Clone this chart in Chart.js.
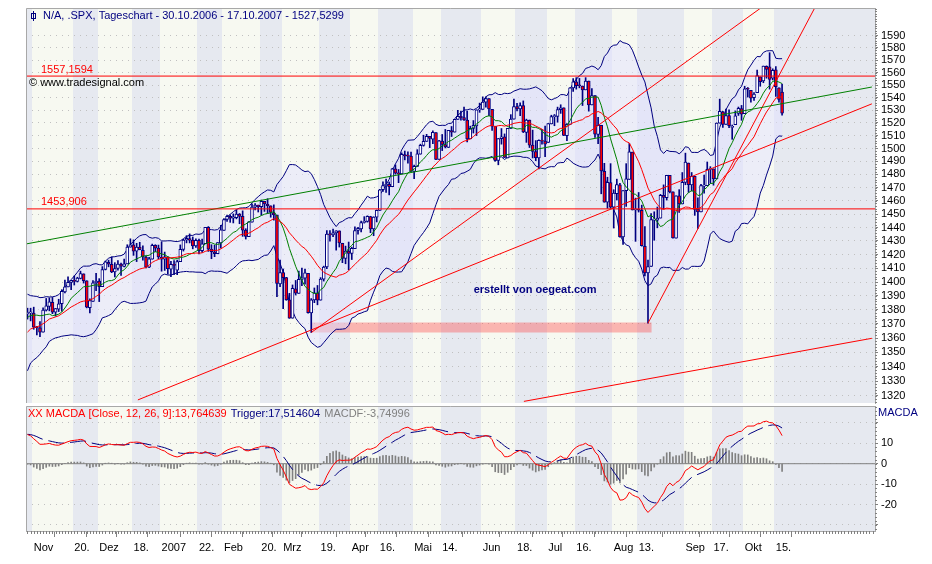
<!DOCTYPE html>
<html>
<head>
<meta charset="utf-8">
<script src="https://cdn.jsdelivr.net/npm/chart.js@4.4.0/dist/chart.umd.min.js"></script>
<style>
html, body { margin: 0; padding: 0; background: #fff; }
#wrap { position: relative; width: 932px; height: 564px; overflow: hidden; }
#priceChart { position: absolute; left: 0; top: 0; }
#macdChart { position: absolute; left: 0; top: 406px; }
</style>
</head>
<body>
<div id="wrap">
  <canvas id="priceChart" width="932" height="404"></canvas>
  <canvas id="macdChart" width="932" height="158"></canvas>
</div>
<script>
// SPX Tageschart 30.10.2006 - 17.10.2007, one value per trading day
const opens = [
  1377.34, 1377.93,
  // Nov
  1377.76, 1367.44, 1367.31, 1364.27, 1379.75, 1382.50, 1385.43, 1378.33, 1380.58, 1384.36, 1392.91,
  1396.53, 1399.76, 1401.17, 1400.43, 1402.69, 1405.94, 1400.95, 1381.61, 1386.11, 1399.47,
  // Dez
  1400.63, 1396.67, 1409.10, 1414.40, 1412.86, 1407.27, 1409.81, 1413.00, 1411.32, 1413.16,
  1425.48, 1427.08, 1422.42, 1425.51, 1423.20, 1418.10, 1410.75, 1416.63, 1426.77, 1424.71,
  // Jan
  1418.03, 1416.60, 1418.34, 1409.26, 1412.84, 1408.70, 1414.84, 1423.82, 1430.73, 1431.77,
  1430.59, 1426.35, 1430.47, 1422.95, 1427.96, 1440.12, 1423.90, 1422.03, 1420.61, 1428.65,
  // Feb
  1437.90, 1445.94, 1448.33, 1446.98, 1447.41, 1449.99, 1448.25, 1438.00, 1433.22, 1443.91,
  1455.15, 1456.77, 1455.53, 1459.60, 1457.29, 1456.22, 1451.04, 1449.25, 1398.64,
  // Mrz
  1406.80, 1403.16, 1387.11, 1374.06, 1395.02, 1391.88, 1401.89, 1402.80, 1406.23, 1377.86, 1387.11,
  1392.28, 1386.95, 1402.04, 1410.92, 1435.04, 1434.54, 1436.11, 1437.49, 1428.35, 1417.17, 1422.52,
  // Apr
  1420.83, 1424.27, 1437.75, 1438.94, 1443.77, 1444.58, 1448.23, 1438.87, 1447.80, 1452.84,
  1468.47, 1471.47, 1472.48, 1470.69, 1484.33, 1480.93, 1480.38, 1495.27, 1494.21, 1494.07,
  // Mai
  1482.37, 1486.13, 1495.56, 1502.35, 1505.57, 1509.36, 1507.32, 1512.33, 1491.47, 1505.76, 1503.11,
  1500.75, 1514.01, 1512.74, 1522.75, 1525.10, 1524.09, 1522.10, 1507.50, 1515.55, 1517.60, 1530.19,
  // Jun
  1530.62, 1536.28, 1539.12, 1530.57, 1517.36, 1490.71, 1507.64, 1509.12, 1492.65, 1515.58, 1522.97,
  1532.90, 1531.02, 1533.68, 1512.50, 1522.19, 1502.56, 1497.68, 1492.62, 1506.32, 1505.70,
  // Jul
  1504.66, 1519.12, 1524.86, 1524.96, 1530.43, 1531.85, 1509.93, 1518.74, 1547.68, 1552.50, 1549.52,
  1549.20, 1546.13, 1553.19, 1534.06, 1541.57, 1511.03, 1518.09, 1482.42, 1458.93, 1473.90,
  // Aug
  1455.18, 1465.46, 1472.18, 1433.04, 1467.62, 1476.22, 1497.21, 1453.09, 1453.42, 1452.87, 1426.15, 1406.64,
  1411.26, 1445.55, 1445.55, 1447.03, 1464.05, 1462.34, 1479.36, 1466.72, 1432.01, 1463.67, 1457.61,
  // Sep
  1473.96, 1488.76, 1472.03, 1478.55, 1453.50, 1451.69, 1471.10, 1471.47, 1483.95, 1484.24,
  1476.63, 1519.75, 1528.69, 1518.75, 1525.75, 1516.34, 1518.62, 1527.32, 1531.24,
  // Okt
  1527.29, 1546.96, 1545.80, 1539.91, 1543.84, 1556.51, 1553.18, 1564.98, 1564.72, 1555.41, 1562.25, 1547.81, 1544.44
];
const highs = [
  1381.22, 1381.21,
  1381.95, 1368.39, 1371.68, 1381.40, 1388.19, 1388.61, 1388.92, 1381.04, 1387.61, 1394.49, 1401.35,
  1403.76, 1401.21, 1404.37, 1403.49, 1407.89, 1405.94, 1400.95, 1387.91, 1401.14, 1406.30,
  1402.46, 1411.23, 1415.27, 1415.93, 1418.27, 1414.09, 1415.60, 1413.78, 1416.64, 1427.23,
  1431.63, 1430.81, 1428.30, 1429.05, 1426.40, 1418.82, 1417.91, 1427.72, 1427.26, 1427.00,
  1429.42, 1421.84, 1418.34, 1414.98, 1415.61, 1415.99, 1427.12, 1431.23, 1433.93, 1435.27,
  1432.96, 1431.57, 1431.39, 1431.33, 1440.14, 1440.69, 1427.27, 1426.94, 1428.82, 1441.61,
  1446.64, 1449.33, 1449.38, 1450.19, 1452.99, 1450.45, 1452.45, 1439.11, 1444.41, 1457.65,
  1457.97, 1456.77, 1460.53, 1459.60, 1461.57, 1456.22, 1456.95, 1449.25, 1415.89,
  1409.46, 1403.40, 1391.86, 1397.90, 1401.16, 1407.93, 1410.15, 1409.34, 1406.23, 1388.09, 1395.73,
  1397.51, 1403.20, 1411.53, 1437.77, 1437.66, 1438.89, 1437.65, 1437.49, 1428.35, 1426.24, 1429.22,
  1425.49, 1440.57, 1440.16, 1444.88, 1448.10, 1448.73, 1448.39, 1448.02, 1453.11, 1468.62,
  1474.35, 1476.57, 1474.23, 1484.74, 1487.32, 1483.82, 1496.59, 1498.02, 1497.32, 1497.16,
  1487.27, 1499.10, 1503.34, 1510.34, 1511.00, 1509.36, 1513.80, 1512.33, 1506.24, 1510.90, 1514.83,
  1514.15, 1517.14, 1522.75, 1529.87, 1529.24, 1532.43, 1529.31, 1517.41, 1521.80, 1530.23, 1535.56,
  1540.56, 1540.53, 1539.12, 1530.57, 1517.36, 1507.76, 1515.53, 1511.33, 1515.70, 1526.45, 1538.71,
  1535.44, 1535.85, 1537.32, 1522.90, 1522.19, 1514.29, 1506.12, 1506.80, 1514.84, 1517.53,
  1519.45, 1526.01, 1526.57, 1532.40, 1534.26, 1531.85, 1519.34, 1547.92, 1555.10, 1555.90, 1555.32,
  1549.20, 1555.90, 1553.19, 1547.23, 1541.57, 1524.31, 1518.09, 1488.53, 1477.88, 1488.30,
  1468.38, 1476.43, 1473.23, 1467.67, 1488.30, 1503.89, 1497.21, 1462.02, 1466.29, 1456.74, 1440.78, 1415.97,
  1450.33, 1451.75, 1455.32, 1464.86, 1472.06, 1479.40, 1479.36, 1466.72, 1463.76, 1468.43, 1481.47,
  1496.40, 1488.76, 1481.49, 1478.55, 1462.25, 1472.48, 1479.50, 1489.58, 1485.99, 1484.24,
  1519.89, 1538.74, 1529.14, 1530.89, 1530.18, 1518.27, 1529.39, 1532.46, 1533.74,
  1549.02, 1548.01, 1545.84, 1544.02, 1561.91, 1556.51, 1565.26, 1565.42, 1576.09, 1563.03, 1564.74, 1547.81, 1550.66
];
const lows = [
  1373.46, 1372.19,
  1366.26, 1362.21, 1360.98, 1364.27, 1379.19, 1379.33, 1377.31, 1375.60, 1378.80, 1379.07, 1392.13,
  1396.53, 1394.55, 1397.85, 1399.99, 1402.26, 1399.25, 1381.44, 1377.83, 1386.11, 1393.83,
  1385.93, 1396.67, 1408.78, 1411.05, 1406.80, 1403.67, 1408.56, 1404.75, 1411.05, 1413.16,
  1425.48, 1419.42, 1414.88, 1423.51, 1415.90, 1410.28, 1410.45, 1416.63, 1422.05, 1416.84,
  1407.86, 1408.43, 1405.75, 1403.97, 1405.42, 1405.32, 1414.84, 1422.58, 1428.62, 1428.57,
  1424.21, 1425.19, 1420.40, 1421.66, 1427.96, 1422.34, 1416.96, 1418.46, 1420.61, 1424.78,
  1437.90, 1444.49, 1443.85, 1443.40, 1446.44, 1442.81, 1433.44, 1431.44, 1433.22, 1443.91,
  1453.19, 1451.57, 1449.20, 1452.02, 1450.51, 1447.67, 1445.48, 1389.42, 1396.65,
  1380.87, 1386.87, 1373.97, 1374.06, 1390.64, 1391.88, 1397.30, 1398.40, 1377.71, 1363.98, 1385.16,
  1383.63, 1386.95, 1400.70, 1409.75, 1429.88, 1433.21, 1423.28, 1425.54, 1414.07, 1413.27, 1408.90,
  1416.37, 1424.27, 1435.08, 1436.67, 1443.28, 1443.99, 1436.15, 1433.91, 1444.15, 1452.84,
  1467.15, 1466.41, 1464.47, 1470.69, 1480.19, 1473.74, 1480.38, 1491.17, 1488.67, 1482.29,
  1476.70, 1486.13, 1495.56, 1501.80, 1505.54, 1500.66, 1503.77, 1491.42, 1491.47, 1498.34, 1500.43,
  1500.75, 1509.29, 1512.74, 1522.71, 1522.05, 1521.90, 1505.18, 1507.50, 1512.02, 1510.06, 1528.26,
  1530.62, 1532.31, 1525.62, 1514.13, 1490.37, 1487.41, 1503.35, 1492.97, 1492.65, 1515.58, 1522.97,
  1529.31, 1525.67, 1512.36, 1504.75, 1500.74, 1492.68, 1490.54, 1484.18, 1503.41, 1493.61,
  1504.66, 1519.12, 1517.72, 1520.47, 1527.45, 1510.01, 1506.10, 1518.74, 1544.85, 1546.69, 1547.74,
  1533.67, 1546.13, 1529.20, 1534.06, 1508.62, 1503.73, 1465.30, 1458.95, 1454.32, 1454.25,
  1439.59, 1460.58, 1432.80, 1427.39, 1455.80, 1476.22, 1453.09, 1429.74, 1451.54, 1426.20, 1404.36, 1370.60,
  1411.26, 1430.54, 1439.76, 1447.03, 1453.88, 1460.54, 1465.98, 1432.01, 1432.01, 1451.25, 1457.61,
  1472.15, 1466.34, 1467.41, 1449.07, 1439.29, 1451.69, 1465.75, 1471.47, 1473.18, 1471.82,
  1476.63, 1519.75, 1516.42, 1518.75, 1516.15, 1507.13, 1518.62, 1525.81, 1521.99,
  1527.25, 1540.37, 1536.34, 1537.63, 1543.84, 1549.00, 1551.82, 1555.46, 1546.72, 1554.09, 1540.81, 1536.29, 1526.01
];
const closes = [
  1377.93, 1377.94,
  1367.81, 1367.34, 1364.30, 1379.78, 1382.84, 1385.72, 1378.33, 1380.90, 1384.42, 1393.22, 1396.57,
  1399.76, 1401.20, 1400.50, 1402.81, 1406.09, 1400.95, 1381.96, 1386.72, 1399.48, 1400.63,
  1396.71, 1409.12, 1414.76, 1412.90, 1407.29, 1409.84, 1413.04, 1411.56, 1413.21, 1425.49,
  1427.09, 1422.48, 1425.55, 1423.53, 1418.30, 1410.76, 1416.90, 1426.84, 1424.73, 1418.30,
  1416.60, 1418.34, 1409.71, 1412.84, 1412.11, 1414.85, 1423.82, 1430.73, 1431.90, 1430.62,
  1426.37, 1430.50, 1422.95, 1427.99, 1440.13, 1423.90, 1422.18, 1420.62, 1428.82, 1438.24,
  1445.94, 1448.39, 1446.99, 1448.00, 1450.02, 1448.31, 1438.06, 1433.37, 1444.26, 1455.30,
  1456.81, 1455.54, 1459.68, 1457.63, 1456.38, 1451.19, 1449.37, 1399.04, 1406.82,
  1403.17, 1387.17, 1374.12, 1395.41, 1391.97, 1401.89, 1402.84, 1406.60, 1377.95, 1387.17, 1392.28,
  1386.95, 1402.06, 1410.94, 1435.04, 1434.54, 1436.11, 1437.50, 1428.61, 1417.23, 1422.53, 1420.86,
  1424.55, 1437.77, 1439.37, 1443.76, 1444.61, 1448.39, 1438.87, 1447.80, 1452.85, 1468.33,
  1471.48, 1472.50, 1470.73, 1484.35, 1480.93, 1480.41, 1495.42, 1494.25, 1494.07, 1482.37,
  1486.30, 1495.92, 1502.39, 1505.62, 1509.48, 1507.72, 1512.58, 1491.47, 1505.85, 1503.15, 1501.19,
  1514.14, 1512.75, 1522.75, 1525.10, 1524.12, 1522.28, 1507.51, 1515.73, 1518.11, 1530.23, 1530.62,
  1536.34, 1539.18, 1530.95, 1517.38, 1490.72, 1507.67, 1509.12, 1493.00, 1515.67, 1522.97, 1532.91,
  1531.05, 1533.70, 1512.84, 1522.19, 1502.56, 1497.74, 1492.89, 1506.34, 1505.71, 1503.35,
  1519.43, 1524.87, 1525.40, 1530.44, 1531.85, 1510.12, 1518.76, 1547.70, 1552.50, 1549.52, 1549.37,
  1546.17, 1553.08, 1534.10, 1541.57, 1511.04, 1518.09, 1482.66, 1458.95, 1473.91, 1455.27,
  1465.81, 1472.20, 1433.06, 1467.67, 1476.71, 1497.49, 1453.09, 1453.64, 1452.92, 1426.54, 1406.70, 1411.27,
  1445.94, 1445.55, 1447.12, 1464.07, 1462.50, 1479.37, 1466.79, 1432.36, 1463.76, 1457.64, 1473.99,
  1489.42, 1472.29, 1478.55, 1453.55, 1451.70, 1471.49, 1471.56, 1483.95, 1484.25, 1476.65,
  1519.78, 1529.03, 1518.75, 1525.75, 1517.73, 1517.21, 1525.42, 1531.38, 1526.75,
  1547.04, 1546.63, 1539.59, 1542.84, 1557.59, 1552.58, 1565.15, 1562.47, 1554.41, 1561.80, 1548.71, 1538.53, 1527.53
];
// closes before 30.10.2006, only used so the indicators start filled (Aug - Oct 2006)
const priorCloses = [
  1270.92, 1277.41, 1280.27, 1279.36, 1275.77, 1271.48, 1265.95, 1271.81, 1266.74, 1268.21, 1285.58, 1295.43,
  1297.48, 1302.30, 1297.52, 1298.82, 1292.99, 1296.06, 1295.09, 1301.78, 1304.28, 1305.37, 1303.82,
  1311.01, 1313.25, 1300.26, 1294.02, 1298.92, 1299.54, 1313.00, 1318.07, 1316.28, 1319.66,
  1321.18, 1317.64, 1325.18, 1318.03, 1314.78, 1326.37, 1336.35, 1336.59, 1338.88, 1335.85,
  1331.32, 1334.11, 1350.20, 1353.22, 1349.59, 1350.66, 1353.42, 1349.95, 1362.83, 1365.62,
  1369.06, 1364.05, 1365.80, 1366.96, 1368.60, 1377.02, 1377.38, 1382.22, 1389.08, 1377.34
];

// date axis: trading day index of each labelled tick
const tickDays = [2, 15, 23, 34, 43, 55, 63, 75, 82, 94, 104, 113, 124, 133, 146, 157, 167, 176, 188, 196, 211, 220, 230, 240];
const tickLabels = ['Nov', '20.', 'Dez', '18.', '2007', '22.', 'Feb', '20.', 'Mrz', '19.', 'Apr', '16.',
  'Mai', '14.', 'Jun', '18.', 'Jul', '16.', 'Aug', '13.', 'Sep', '17.', 'Okt', '15.'];
const macdTicks = [-30, -20, -10, 0, 10, 20];
const macdLabelled = [-20, -10, 0, 10];

// drawn tools: [day index, price] end points
const greenTrend = [[-0.5, 1427.8], [270.8, 1548.4]];
const redTrendLong = [[35.4, 1317.3], [270.8, 1535.0]];
const redTrendMarch = [[91, 1363.98], [240, 1622.0]];
const redTrendAug = [[199, 1370.6], [254.2, 1621.5]];
const redTrendLow = [[159.2, 1316.3], [270.8, 1359.9]];
const levelHigh = 1557.1594;
const levelLow = 1453.906;
const zoneDays = [91, 200.2];
const zonePrices = [1364.0, 1371.0];

const titleText = 'N/A, .SPX, Tageschart - 30.10.2006 - 17.10.2007 - 1527,5299';
const macdText = 'XX MACDA [Close, 12, 26, 9]:13,764639';
const triggerText = 'Trigger:17,514604';
const histText = 'MACDF:-3,74996';

const X_MIN = -0.48, X_MAX = 271.8;
const NAVY = '#000080', RED = '#ff0000', GREEN = '#008000';
const STRIPE_DARK = '#e6e9f0', STRIPE_LIGHT = '#f7f9f1';
const FRAME = '#a8a8a8', GRID = '#c0c0c0';
const FONT = '"Liberation Sans", Arial, sans-serif';

const priceTicks = [];
for (let v = 1320; v <= 1590; v += 10) priceTicks.push(v);

// indicators
const off = priorCloses.length;
const allCloses = priorCloses.concat(closes);
function smaAt(n, k) {
  let s = 0;
  for (let j = k - n + 1; j <= k; j++) s += allCloses[j];
  return s / n;
}
function sdAt(n, k, m) {
  let s = 0;
  for (let j = k - n + 1; j <= k; j++) s += (allCloses[j] - m) * (allCloses[j] - m);
  return Math.sqrt(s / n);
}
function ema(arr, n) {
  const a = 2 / (n + 1);
  const out = [];
  arr.forEach((v, k) => out.push(k === 0 ? v : out[k - 1] + a * (v - out[k - 1])));
  return out;
}
const ma10 = [], ma20 = [], bbUp = [], bbLo = [];
closes.forEach((c, i) => {
  const k = i + off;
  const m = smaAt(20, k);
  const d = sdAt(20, k, m);
  ma10.push({x: i, y: smaAt(10, k)});
  ma20.push({x: i, y: m});
  bbUp.push({x: i, y: m + 2 * d});
  bbLo.push({x: i, y: m - 2 * d});
});
const ema12 = ema(allCloses, 12);
const ema26 = ema(allCloses, 26);
const macdAll = ema12.map((v, k) => v - ema26[k]);
const trigAll = ema(macdAll, 9);
const macdLine = closes.map((c, i) => ({x: i, y: macdAll[i + off]}));
const trigLine = closes.map((c, i) => ({x: i, y: trigAll[i + off]}));
const histBars = closes.map((c, i) => ({x: i, y: macdAll[i + off] - trigAll[i + off]}));

const wicks = closes.map((c, i) => ({x: i, y: [lows[i], highs[i]]}));
const bodies = closes.map((c, i) => ({x: i, y: [Math.min(opens[i], c), Math.max(opens[i], c)]}));
const bodyColors = closes.map((c, i) => c < opens[i] ? RED : '#ffffff');

const pts = arr => arr.map(p => ({x: p[0], y: p[1]}));
const flat = v => [{x: X_MIN, y: v}, {x: X_MAX, y: v}];

function line(data, color, order, extra) {
  return Object.assign({type: 'line', data: data, borderColor: color, borderWidth: 1,
    pointRadius: 0, fill: false, order: order}, extra || {});
}

// axis sizes are fixed so both panels line up with the original
function fixY(s) { s.width = 57; s.paddingTop = 0; s.paddingBottom = 0; }
function fixX(s) { s.height = 33; s.paddingLeft = 0; s.paddingRight = 0; }

// month / half month stripes behind both panels
function drawStripes(chart) {
  const {ctx, chartArea: a, scales: {x}} = chart;
  ctx.save();
  ctx.fillStyle = STRIPE_DARK;
  ctx.fillRect(a.left, a.top, a.right - a.left, a.bottom - a.top);
  ctx.fillStyle = STRIPE_LIGHT;
  for (let k = 0; k < tickDays.length; k += 2) {
    const x1 = Math.round(x.getPixelForValue(tickDays[k] - 0.5));
    const x2 = Math.round(x.getPixelForValue(tickDays[k + 1] - 0.5));
    ctx.fillRect(x1, a.top, x2 - x1, a.bottom - a.top);
  }
  ctx.restore();
}
function drawFrame(ctx, a) {
  ctx.strokeStyle = FRAME;
  ctx.lineWidth = 1;
  ctx.beginPath();
  ctx.moveTo(a.left + 0.5, a.bottom);
  ctx.lineTo(a.left + 0.5, a.top + 0.5);
  ctx.lineTo(a.right, a.top + 0.5);
  ctx.stroke();
}
function minorYTicks(ctx, a, y, from, to, step) {
  ctx.strokeStyle = '#808080';
  ctx.beginPath();
  for (let v = from; v <= to; v += step) {
    const py = Math.round(y.getPixelForValue(v)) + 0.5;
    ctx.moveTo(a.right, py);
    ctx.lineTo(a.right + 2, py);
  }
  ctx.stroke();
}

const pricePlugin = {
  id: 'pricePanel',
  beforeDraw: drawStripes,
  afterDraw(chart) {
    const {ctx, chartArea: a, scales: {x, y}} = chart;
    ctx.save();
    drawFrame(ctx, a);
    minorYTicks(ctx, a, y, 1316, 1612, 2);
    ctx.textBaseline = 'middle';
    ctx.textAlign = 'left';
    ctx.font = '11px ' + FONT;
    // little chart symbol in front of the title
    ctx.strokeStyle = NAVY;
    ctx.beginPath();
    ctx.moveTo(a.left + 7.5, a.top + 3);
    ctx.lineTo(a.left + 7.5, a.top + 13);
    ctx.stroke();
    ctx.strokeRect(a.left + 5.5, a.top + 5.5, 4, 5);
    ctx.fillStyle = NAVY;
    ctx.fillText(titleText, a.left + 17, a.top + 8);
    ctx.fillStyle = '#000000';
    ctx.fillText('\u00a9 www.tradesignal.com', a.left + 3, a.top + 75);
    ctx.fillStyle = RED;
    ctx.fillText('1557,1594', x.getPixelForValue(4.3), y.getPixelForValue(levelHigh) - 6);
    ctx.fillText('1453,906', x.getPixelForValue(4.3), y.getPixelForValue(levelLow) - 6.5);
    ctx.font = 'bold 11px ' + FONT;
    ctx.fillStyle = NAVY;
    ctx.textAlign = 'center';
    ctx.fillText('erstellt von oegeat.com', x.getPixelForValue(162.8), y.getPixelForValue(1394.3));
    ctx.restore();
  }
};

const macdPlugin = {
  id: 'macdPanel',
  beforeDraw: drawStripes,
  afterDraw(chart) {
    const {ctx, chartArea: a, scales: {x, y}} = chart;
    ctx.save();
    drawFrame(ctx, a);
    minorYTicks(ctx, a, y, -32, 28, 2);
    // daily ticks under the date axis
    ctx.strokeStyle = '#808080';
    ctx.beginPath();
    for (let i = 0; i <= 271; i++) {
      const px = Math.round(x.getPixelForValue(i)) + 0.5;
      ctx.moveTo(px, a.bottom);
      ctx.lineTo(px, a.bottom + 3);
    }
    ctx.stroke();
    ctx.textBaseline = 'middle';
    ctx.textAlign = 'left';
    ctx.font = '11px ' + FONT;
    let px = a.left + 2;
    [[macdText, RED], [triggerText, NAVY], [histText, '#808080']].forEach(([s, c]) => {
      ctx.fillStyle = c;
      ctx.fillText(s, px, a.top + 8);
      px += ctx.measureText(s).width + 4;
    });
    ctx.fillStyle = NAVY;
    ctx.fillText('MACDA', a.right + 3, a.top + 7);
    ctx.restore();
  }
};

const tickFont = {family: FONT, size: 11};

new Chart(document.getElementById('priceChart'), {
  type: 'line',
  data: {
    datasets: [
      line(bbUp, NAVY, 5, {fill: '+1', backgroundColor: 'rgba(226,226,255,0.5)'}),
      line(bbLo, NAVY, 5),
      line([{x: zoneDays[0], y: zonePrices[1]}, {x: zoneDays[1], y: zonePrices[1]}], 'transparent', 7,
        {borderWidth: 0, fill: {value: zonePrices[0]}, backgroundColor: 'rgba(255,70,70,0.38)'}),
      {type: 'bar', data: wicks, backgroundColor: NAVY, barThickness: 1, grouped: false, order: 4},
      {type: 'bar', data: bodies, backgroundColor: bodyColors, borderColor: NAVY, borderWidth: 1,
        borderSkipped: false, barThickness: 3, minBarLength: 1, grouped: false, order: 3},
      line(ma20, RED, 2),
      line(ma10, GREEN, 2),
      line(flat(levelHigh), RED, 1),
      line(flat(levelLow), RED, 1),
      line(pts(greenTrend), GREEN, 1),
      line(pts(redTrendLong), RED, 1),
      line(pts(redTrendMarch), RED, 1),
      line(pts(redTrendAug), RED, 1),
      line(pts(redTrendLow), RED, 1)
    ]
  },
  options: {
    responsive: false,
    animation: false,
    events: [],
    layout: {padding: {left: 26, top: 8, right: 0, bottom: 1}},
    plugins: {legend: {display: false}, tooltip: {enabled: false}, filler: {drawTime: 'beforeDatasetsDraw'}},
    elements: {line: {tension: 0}, point: {radius: 0}},
    scales: {
      x: {type: 'linear', min: X_MIN, max: X_MAX, display: false, offset: false},
      y: {
        type: 'logarithmic', position: 'right', min: 1315.2, max: 1612.9,
        afterBuildTicks: s => { s.ticks = priceTicks.map(v => ({value: v})); },
        afterFit: fixY,
        grid: {color: GRID, lineWidth: 1, drawTicks: true, tickLength: 3, tickColor: '#808080'},
        border: {display: true, color: FRAME, dash: [1, 5]},
        ticks: {autoSkip: false, padding: 3, color: '#000', font: tickFont, callback: v => String(v)}
      }
    }
  },
  plugins: [pricePlugin]
});

new Chart(document.getElementById('macdChart'), {
  type: 'line',
  data: {
    datasets: [
      {type: 'bar', data: histBars, backgroundColor: '#808080', barThickness: 1, grouped: false, order: 5},
      line(flat(0), '#808080', 4),
      line(trigLine, NAVY, 2, {borderDash: [16, 6]}),
      line(macdLine, RED, 1)
    ]
  },
  options: {
    responsive: false,
    animation: false,
    events: [],
    layout: {padding: {left: 26, top: 0, right: 0, bottom: 0}},
    plugins: {legend: {display: false}, tooltip: {enabled: false}},
    elements: {line: {tension: 0}, point: {radius: 0}},
    scales: {
      x: {
        type: 'linear', min: X_MIN, max: X_MAX, offset: false,
        afterBuildTicks: s => { s.ticks = tickDays.map(v => ({value: v})); },
        afterFit: fixX,
        grid: {drawOnChartArea: false, drawTicks: true, tickLength: 6, tickColor: '#808080'},
        border: {display: true, color: FRAME},
        ticks: {autoSkip: false, maxRotation: 0, align: 'start', padding: 4, color: '#000', font: tickFont,
          callback: (v, i) => tickLabels[i]}
      },
      y: {
        type: 'linear', position: 'right', min: -33, max: 28.3,
        afterBuildTicks: s => { s.ticks = macdTicks.map(v => ({value: v})); },
        afterFit: fixY,
        grid: {color: GRID, lineWidth: 1, drawTicks: true, tickLength: 3, tickColor: '#808080'},
        border: {display: true, color: FRAME, dash: [1, 5]},
        ticks: {autoSkip: false, padding: 3, color: '#000', font: tickFont,
          callback: v => macdLabelled.includes(v) ? String(v) : ''}
      }
    }
  },
  plugins: [macdPlugin]
});
</script>
</body>
</html>
